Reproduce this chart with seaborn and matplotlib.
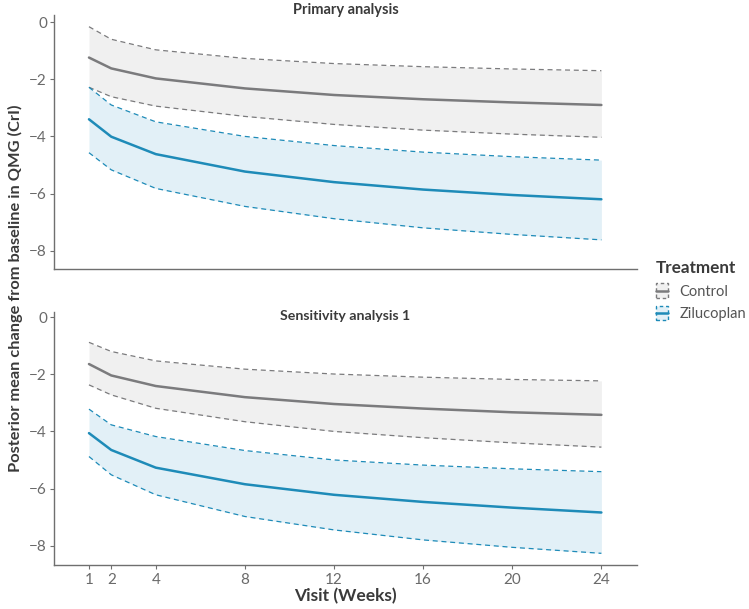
import numpy as np
import pandas as pd
import seaborn as sns
import matplotlib
matplotlib.use("Agg")
import matplotlib.pyplot as plt
from matplotlib.patches import Rectangle
from matplotlib.lines import Line2D

sns.set_theme(style="white")
plt.rcParams['font.family'] = ['Lato', 'DejaVu Sans']

weeks = [1, 2, 4, 8, 12, 16, 20, 24]
treatments = ["Control", "Zilucoplan"]
panels = ["Primary analysis", "Sensitivity analysis 1"]

# primary analysis
ctrl_mean_p = [-1.24, -1.62, -1.97, -2.32, -2.55, -2.70, -2.81, -2.90]
ctrl_lo_p = [-2.28, -2.61, -2.94, -3.30, -3.58, -3.78, -3.92, -4.03]
ctrl_hi_p = [-0.16, -0.60, -0.97, -1.27, -1.45, -1.56, -1.64, -1.70]
zil_mean_p = [-3.40, -4.01, -4.62, -5.23, -5.60, -5.86, -6.05, -6.20]
zil_lo_p = [-4.57, -5.17, -5.82, -6.45, -6.88, -7.20, -7.43, -7.62]
zil_hi_p = [-2.28, -2.90, -3.49, -4.00, -4.32, -4.55, -4.71, -4.83]

# sensitivity analysis 1
ctrl_mean_s = [-1.64, -2.04, -2.41, -2.80, -3.04, -3.20, -3.33, -3.42]
ctrl_lo_s = [-2.37, -2.72, -3.19, -3.66, -4.00, -4.22, -4.40, -4.55]
ctrl_hi_s = [-0.88, -1.20, -1.53, -1.82, -1.99, -2.10, -2.18, -2.23]
zil_mean_s = [-4.06, -4.65, -5.27, -5.85, -6.22, -6.47, -6.67, -6.84]
zil_lo_s = [-4.88, -5.52, -6.22, -6.98, -7.45, -7.80, -8.06, -8.27]
zil_hi_s = [-3.22, -3.77, -4.18, -4.67, -5.00, -5.18, -5.31, -5.41]

rows = []
for panel, series in zip(panels, [
        [(ctrl_mean_p, ctrl_lo_p, ctrl_hi_p), (zil_mean_p, zil_lo_p, zil_hi_p)],
        [(ctrl_mean_s, ctrl_lo_s, ctrl_hi_s), (zil_mean_s, zil_lo_s, zil_hi_s)]]):
    for trt, (m, lo, hi) in zip(treatments, series):
        for w, a, b, c in zip(weeks, m, lo, hi):
            rows.append(dict(panel=panel, Treatment=trt, week=w, mean=a, lo=b, hi=c))
df = pd.DataFrame(rows)

line_col = {"Control": "#7b7b7d", "Zilucoplan": "#1e8bb8"}
fill_col = {"Control": "#f0f0f0", "Zilucoplan": "#e2f0f7"}
txt = "#3a3a3a"
tick_col = "#6a6a6a"


# legend key: dashed box with the mean line through the middle
class BoxKey:
    def __init__(self, fill, col):
        self.fill, self.col = fill, col


class BoxKeyHandler:
    def legend_artist(self, legend, orig, fontsize, handlebox):
        x0, y0 = -handlebox.xdescent, -handlebox.ydescent
        w, h = handlebox.width, handlebox.height
        tr = handlebox.get_transform()
        rect = Rectangle((x0, y0), w, h, facecolor=orig.fill, edgecolor=orig.col,
                         linestyle=(0, (2.5, 2)), lw=1.0, transform=tr)
        line = Line2D([x0, x0 + w], [y0 + h / 2] * 2, color=orig.col, lw=1.8,
                      transform=tr)
        handlebox.add_artist(rect)
        handlebox.add_artist(line)
        return rect


fig = plt.figure(figsize=(7.49, 6.09), dpi=100)
ax_top = fig.add_axes([0.0721, 0.5583, 0.7784, 0.4171])
ax_bot = fig.add_axes([0.0721, 0.0722, 0.7784, 0.4163])

for ax, panel in zip([ax_top, ax_bot], panels):
    d = df[df.panel == panel]
    for trt in treatments:
        s = d[d.Treatment == trt]
        ax.fill_between(s.week, s.lo, s.hi, color=fill_col[trt], lw=0, zorder=1)
    sns.lineplot(data=d, x="week", y="lo", hue="Treatment", palette=line_col,
                 ax=ax, lw=0.9, linestyle=(0, (4, 3)), legend=False, zorder=2)
    sns.lineplot(data=d, x="week", y="hi", hue="Treatment", palette=line_col,
                 ax=ax, lw=0.9, linestyle=(0, (4, 3)), legend=False, zorder=2)
    sns.lineplot(data=d, x="week", y="mean", hue="Treatment", palette=line_col,
                 ax=ax, lw=1.8, legend=False, zorder=3)
    ax.set_xlim(-0.57, 25.6)
    ax.set_yticks([0, -2, -4, -6, -8])
    ax.set_xticks(weeks)
    ax.set_xlabel("")
    ax.set_ylabel("")
    for sp in ["top", "right"]:
        ax.spines[sp].set_visible(False)
    for sp in ["left", "bottom"]:
        ax.spines[sp].set_color("#6f6f6f")
        ax.spines[sp].set_linewidth(1.0)
    ax.tick_params(axis="y", left=True, length=3, width=0.8, color="#6f6f6f",
                   labelsize=11, labelcolor=tick_col, pad=2)
    ax.tick_params(axis="x", bottom=True, length=3, width=0.8, color="#6f6f6f",
                   labelsize=11, labelcolor=tick_col, pad=3)

ax_top.set_ylim(-8.64, 0.25)
ax_bot.set_ylim(-8.68, 0.2)
ax_top.tick_params(axis="x", bottom=False, labelbottom=False)

fig.text(0.4613, 1 - 10 / 609, panels[0], ha="center", va="center",
         fontsize=10.5, fontweight="bold", color=txt)
fig.text(0.4613, 1 - 316 / 609, panels[1], ha="center", va="center",
         fontsize=10.2, fontweight="bold", color=txt)
fig.text(0.02, 0.527, "Posterior mean change from baseline in QMG (CrI)",
         rotation=90, ha="center", va="center", fontsize=11.8,
         fontweight="bold", color=txt)
fig.text(0.4613, 1 - 596 / 609, "Visit (Weeks)", ha="center", va="center",
         fontsize=12.5, fontweight="bold", color=txt)

handles = [BoxKey(fill_col[t], line_col[t]) for t in treatments]
leg = fig.legend(handles, treatments, handler_map={BoxKey: BoxKeyHandler()},
                 loc="upper left", bbox_to_anchor=(0.862, 1 - 250 / 609),
                 frameon=False, title="Treatment", fontsize=10.5,
                 title_fontsize=12.3, handlelength=0.8, handleheight=1.15,
                 handletextpad=0.8, labelspacing=0.5, alignment="left",
                 borderpad=0.2)
leg.get_title().set_fontweight("bold")
leg.get_title().set_color(txt)
for t in leg.get_texts():
    t.set_color("#555555")

fig.savefig("out.png", dpi=100)
